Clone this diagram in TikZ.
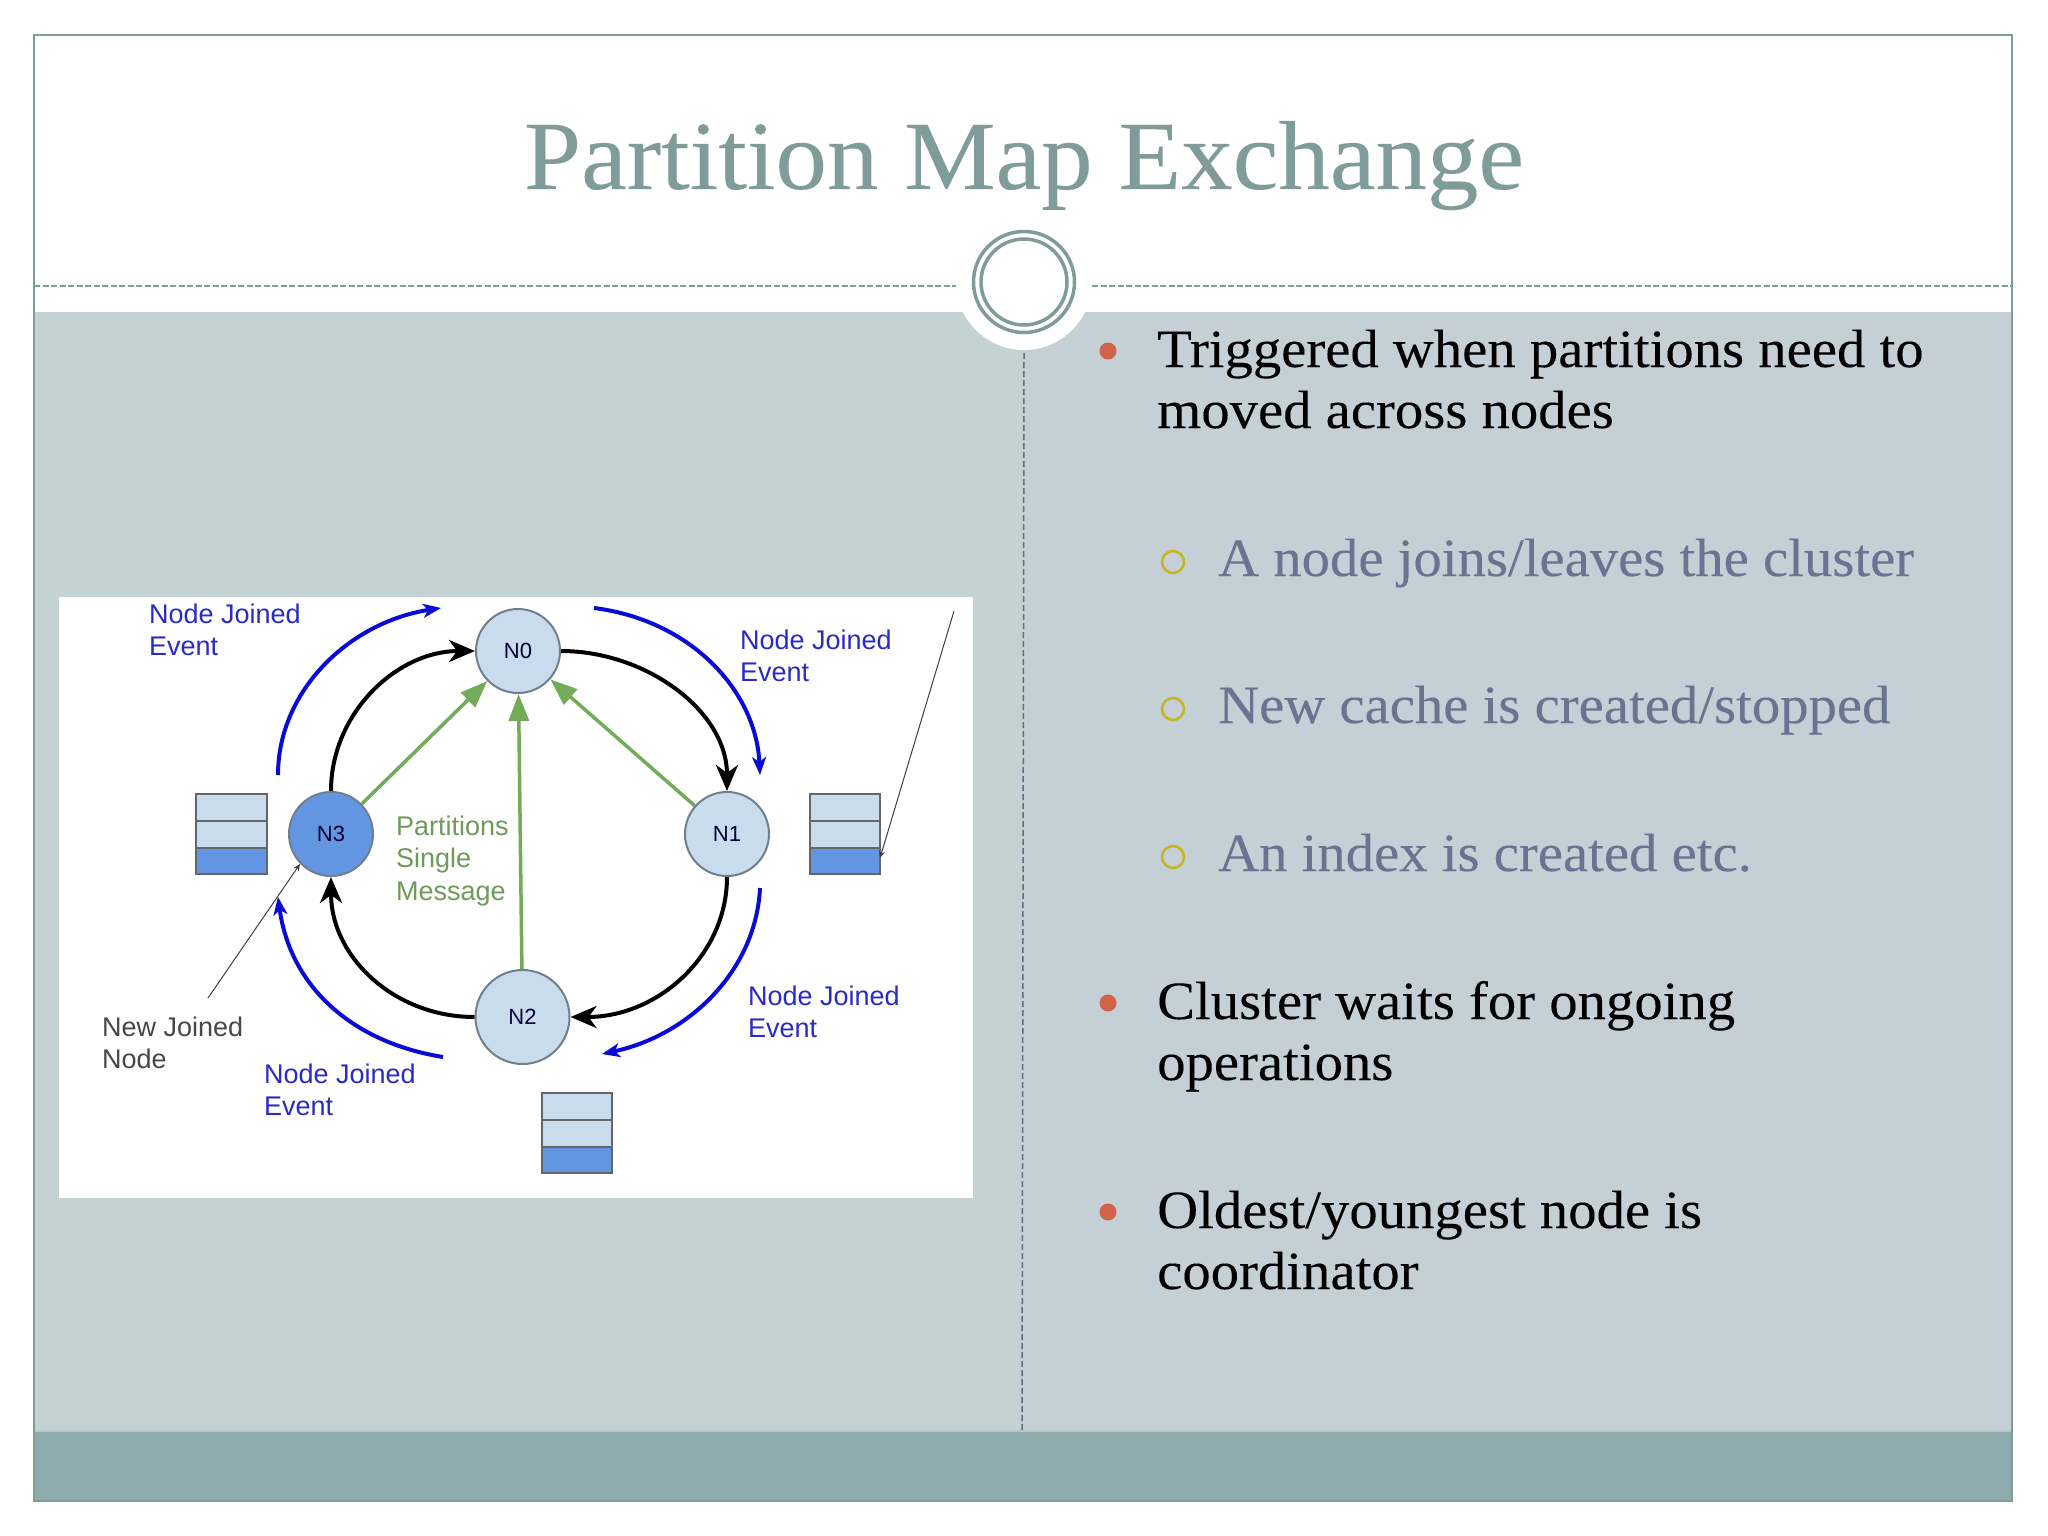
\documentclass[tikz,border=0pt]{standalone}
\usepackage{fontspec}
\setmainfont[FakeStretch=1.05,FakeBold=0.12]{Liberation Serif}
\newfontfamily\lblfont{Liberation Sans}
\usetikzlibrary{arrows.meta,shapes.geometric}
\definecolor{teal}{HTML}{7F9C99}
\definecolor{panelL}{HTML}{C4D2D3}
\definecolor{panelR}{HTML}{C4CFD6}
\definecolor{band}{HTML}{8EAAAD}
\definecolor{bandtop}{HTML}{B6C8CA}
\definecolor{divd}{HTML}{5F6F80}
\definecolor{dotred}{HTML}{D16349}
\definecolor{ringy}{HTML}{C8B41E}
\definecolor{subtxt}{HTML}{687490}
\definecolor{nodefill}{HTML}{C9DCEE}
\definecolor{nodedark}{HTML}{6396E2}
\definecolor{nodeedge}{HTML}{6F7F8C}
\definecolor{grn}{HTML}{72AC58}
\definecolor{grntxt}{HTML}{6F9A5A}
\definecolor{blu}{HTML}{0A0AD8}
\definecolor{blutxt}{HTML}{2A2AC8}
\tikzset{
  ringnode/.style={circle,draw=nodeedge,line width=2pt,fill=nodefill,minimum size=84pt,inner sep=0pt,font=\lblfont\fontsize{22}{24}\selectfont,text=black!80!blue},
  blackarc/.style={line width=4pt,black,-{Stealth[length=26pt,width=22pt,inset=8pt]}},
  bluearc/.style={line width=4pt,blu,-{Stealth[length=18pt,width=14pt,inset=5pt]}},
  greenarrow/.style={line width=3.5pt,grn,-{Triangle[length=27pt,width=20pt]}},
  thinptr/.style={line width=1pt,black!75,-{Stealth[length=7pt,width=6pt]}},
  lbl/.style={inner sep=0pt,anchor=west,align=left,font=\lblfont\fontsize{27}{32.6}\selectfont},
  evtlbl/.style={lbl,text=blutxt},
  bodytxt/.style={inner sep=0pt,anchor=base west,font=\fontsize{54}{54}\selectfont,text=black},
  subbody/.style={bodytxt,text=subtxt},
  reddot/.style={circle,fill=dotred,inner sep=0pt,minimum size=17pt},
  yelring/.style={circle,draw=ringy,line width=2.5pt,inner sep=0pt,minimum size=22pt},
  cellbox/.style={draw=black!60,line width=1.5pt},
  pagedash/.style={teal,line width=1.5pt,dash pattern=on 6pt off 2.5pt},
}
\begin{document}
\begin{tikzpicture}[x=1pt,y=-1pt]
\useasboundingbox (0,0) rectangle (2048,1536);
\fill[white] (0,0) rectangle (2048,1536);
% panels
\fill[panelL] (34,312) rectangle (1021,1431);
\fill[panelR] (1021,312) rectangle (2012,1431);
\fill[band] (34,1431) rectangle (2012,1501);
\draw[bandtop,line width=1.5pt] (34,1431) -- (2012,1431);
\draw[teal,line width=1.5pt] (34,35) rectangle (2012,1501);
% title
\node[anchor=base,inner sep=0pt,text=teal,font=\fontsize{98}{98}\selectfont] (title) at (1024,189) {Partition Map Exchange};
% medallion
\fill[white] (1024,282) circle (68pt);
\draw[teal,line width=3.5pt] (1024,282) circle (50.5pt);
\draw[teal,line width=3.5pt] (1024,282) circle (43pt);
\coordinate (dl0) at (34,286);
\coordinate (dl1) at (956,286);
\coordinate (dr0) at (1092,286);
\coordinate (dr1) at (2012,286);
\draw[pagedash] (dl0) -- (dl1);
\draw[pagedash] (dr0) -- (dr1);
\coordinate (dv0) at (1024,353);
\coordinate (dv1) at (1022,1431);
\draw[divd,line width=1.5pt,dash pattern=on 6pt off 3pt] (dv0) -- (dv1);
% image
\fill[white] (59,597) rectangle (973,1198);
% stacks
\foreach \xa/\xb/\ya in {196/267/794,810/880/794,542/612/1093}{
  \fill[nodefill] (\xa,\ya) rectangle (\xb,\ya+54);
  \fill[nodedark] (\xa,\ya+54) rectangle (\xb,\ya+80);
  \draw[cellbox] (\xa,\ya) rectangle (\xb,\ya+80);
  \draw[cellbox] (\xa,\ya+27) -- (\xb,\ya+27);
  \draw[cellbox] (\xa,\ya+54) -- (\xb,\ya+54);
}
% nodes
\node[ringnode] (N0) at (518,651) {N0};
\node[ringnode] (N1) at (727,834) {N1};
\node[ringnode,minimum size=94pt] (N2) at (522.5,1017) {N2};
\node[ringnode,fill=nodedark] (N3) at (331,834) {N3};
% black ring
\draw[blackarc] (N3.north) .. controls +(0,-78) and +(-78,0) .. (N0.west);
\draw[blackarc] (N0.east) .. controls +(85,0) and +(0,-80) .. (N1.north);
\draw[blackarc] (N1.south) .. controls +(0,78) and +(88,0) .. (N2.east);
\draw[blackarc] (N2.west) .. controls +(-80,0) and +(0,80) .. (N3.south);
% green
\draw[greenarrow] (N3) -- (N0);
\draw[greenarrow] (N1) -- (N0);
\draw[greenarrow] (N2) -- (N0);
% blue
\coordinate (b1s) at (278,775);
\coordinate (b1e) at (441,608);
\coordinate (b2s) at (594,608);
\coordinate (b2e) at (760,775);
\coordinate (b3s) at (760,888);
\coordinate (b3e) at (602,1054);
\coordinate (b4s) at (443,1057);
\coordinate (b4e) at (278,897);
\draw[bluearc] (b1s) .. controls (278,690) and (350,622) .. (b1e);
\draw[bluearc] (b2s) .. controls (690,620) and (756,690) .. (b2e);
\draw[bluearc] (b3s) .. controls (756,970) and (690,1035) .. (b3e);
\draw[bluearc] (b4s) .. controls (350,1042) and (290,985) .. (b4e);
% pointers
\coordinate (p1) at (208,998);
\coordinate (p2) at (300,864);
\coordinate (p3) at (954,611);
\coordinate (p4) at (880,858);
\draw[thinptr] (p1) -- (p2);
\draw[thinptr] (p3) -- (p4);
% diagram labels
\node[evtlbl] (e1) at (149,630) {Node Joined\\Event};
\node[evtlbl] (e2) at (740,656) {Node Joined\\Event};
\node[evtlbl] (e3) at (748,1012) {Node Joined\\Event};
\node[evtlbl] (e4) at (264,1090) {Node Joined\\Event};
\node[lbl,text=black!72] (nj) at (102,1043) {New Joined\\Node};
\node[lbl,text=grntxt] (ps) at (396,861) {Partitions\\Single\\Message};
% bullets
\node[reddot] (d1) at (1108,351) {};
\node[reddot] (d2) at (1108,1003) {};
\node[reddot] (d3) at (1108,1212) {};
\node[yelring] (r1) at (1173,562) {};
\node[yelring] (r2) at (1173,709) {};
\node[yelring] (r3) at (1173,857) {};
\node[bodytxt] (t1a) at (1157,367) {Triggered when partitions need to};
\node[bodytxt] (t1b) at (1157,428) {moved across nodes};
\node[subbody] (s1) at (1218,576) {A node joins/leaves the cluster};
\node[subbody] (s2) at (1218,723) {New cache is created/stopped};
\node[subbody] (s3) at (1218,871) {An index is created etc.};
\node[bodytxt] (t2a) at (1157,1019) {Cluster waits for ongoing};
\node[bodytxt] (t2b) at (1157,1080) {operations};
\node[bodytxt] (t3a) at (1157,1228) {Oldest/youngest node is};
\node[bodytxt] (t3b) at (1157,1289) {coordinator};
\end{tikzpicture}
\end{document}
